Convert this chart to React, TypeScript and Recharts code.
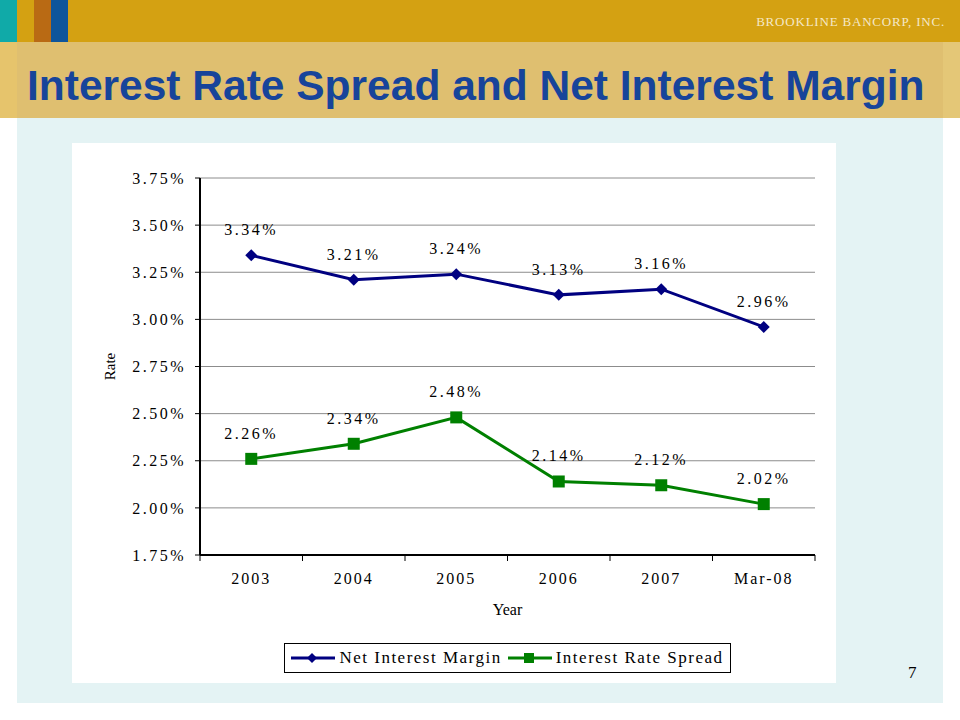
import { ComposedChart, Line, XAxis, YAxis, CartesianGrid, Legend, LabelList } from 'recharts';

const years = ['2003', '2004', '2005', '2006', '2007', 'Mar-08'];
const netInterestMargin = [3.34, 3.21, 3.24, 3.13, 3.16, 2.96];
const interestRateSpread = [2.26, 2.34, 2.48, 2.14, 2.12, 2.02];
const rateTicks = [1.75, 2.0, 2.25, 2.5, 2.75, 3.0, 3.25, 3.5, 3.75];

const data = years.map((year, i) => ({
  year,
  nim: netInterestMargin[i],
  irs: interestRateSpread[i],
}));

const SERIF = '"Liberation Serif", "Times New Roman", serif';
const NAVY = '#000080';
const GREEN = '#008000';

const CHART_W = 764;
const CHART_H = 540;
const MARGIN = { top: 35, right: 21, left: 0, bottom: 10 };
const Y_WIDTH = 128;
const PLOT_W = CHART_W - Y_WIDTH - MARGIN.right;
const BAND = PLOT_W / years.length;
const X_TICK_SIZE = 6;
const X_TICK_MARGIN = 12;

const pct = (v: number) => v.toFixed(2) + '%';

function Diamond({ cx, cy, fill, s = 6 }: any) {
  return <polygon points={`${cx},${cy - s} ${cx + s},${cy} ${cx},${cy + s} ${cx - s},${cy}`} fill={fill} />;
}

function Square({ cx, cy, fill, s = 6 }: any) {
  return <rect x={cx - s} y={cy - s} width={s * 2} height={s * 2} fill={fill} />;
}

// year labels in the middle, tick marks on category boundaries (Excel style)
function YearTick(props: any) {
  const { x, y, payload, index } = props;
  const axisY = y - X_TICK_SIZE - X_TICK_MARGIN;
  const left = x - BAND / 2;
  return (
    <g>
      <line x1={left} x2={left} y1={axisY} y2={axisY + 6} stroke="#000" />
      {index === years.length - 1 && (
        <line x1={x + BAND / 2} x2={x + BAND / 2} y1={axisY} y2={axisY + 6} stroke="#000" />
      )}
      <text x={x} y={y} dy="0.71em" textAnchor="middle" fill="#000" style={{ fontSize: 16, fontFamily: SERIF, letterSpacing: 2 }}>
        {payload.value}
      </text>
    </g>
  );
}

function RateLabel({ viewBox }: any) {
  const cx = viewBox.x + 38;
  const cy = viewBox.y + viewBox.height / 2;
  return (
    <text x={cx} y={cy} transform={`rotate(-90 ${cx} ${cy})`} textAnchor="middle" dominantBaseline="central" fill="#000" style={{ fontSize: 15, fontFamily: SERIF }}>
      Rate
    </text>
  );
}

function YearLabel({ viewBox }: any) {
  const cx = viewBox.x + viewBox.width / 2;
  const cy = viewBox.y + 54;
  return (
    <text x={cx} y={cy} textAnchor="middle" dominantBaseline="central" fill="#000" style={{ fontSize: 16, fontFamily: SERIF }}>
      Year
    </text>
  );
}

const legendOrder = ['nim', 'irs'];

function LegendBox({ payload }: any) {
  const items = [...(payload || [])].sort(
    (a: any, b: any) => legendOrder.indexOf(a.dataKey) - legendOrder.indexOf(b.dataKey)
  );
  return (
    <div style={{ display: 'flex', justifyContent: 'center' }}>
      <div
        style={{
          display: 'flex',
          alignItems: 'center',
          height: 28,
          padding: '0 6px',
          border: '1px solid #000',
          background: '#fff',
          fontFamily: SERIF,
          fontSize: 17,
          letterSpacing: 1.5,
          color: '#000',
          whiteSpace: 'nowrap',
        }}
      >
        {items.map((item: any, i: number) => (
          <span key={item.value} style={{ display: 'flex', alignItems: 'center', marginRight: i === 0 ? 6 : 0 }}>
            <svg width={44} height={14} style={{ marginRight: 4 }}>
              <line x1={0} x2={44} y1={7} y2={7} stroke={item.color} strokeWidth={3} />
              {item.dataKey === 'nim' ? (
                <Diamond cx={21} cy={7} s={5} fill={item.color} />
              ) : (
                <Square cx={21} cy={7} s={5} fill={item.color} />
              )}
            </svg>
            {item.value}
          </span>
        ))}
      </div>
    </div>
  );
}

const labelStyle = { fontSize: 16, fontFamily: SERIF, fill: '#000', letterSpacing: 2.5 };

export default function App() {
  return (
    <div style={{ position: 'absolute', left: 0, top: 0, width: 960, height: 720, background: '#fff', overflow: 'hidden', fontFamily: SERIF }}>
      {/* header bands */}
      <div style={{ position: 'absolute', left: 0, top: 0, width: 960, height: 42, background: '#d4a112' }} />
      <div style={{ position: 'absolute', left: 0, top: 0, width: 17, height: 42, background: '#10aaa8' }} />
      <div style={{ position: 'absolute', left: 34, top: 0, width: 17, height: 42, background: '#b96a14' }} />
      <div style={{ position: 'absolute', left: 51, top: 0, width: 17, height: 42, background: '#0e559b' }} />
      <div style={{ position: 'absolute', left: 0, top: 42, width: 960, height: 76, background: '#dfbf70' }} />
      <div style={{ position: 'absolute', left: 0, top: 42, width: 17, height: 76, background: '#e6c46c' }} />
      <div style={{ position: 'absolute', left: 943, top: 42, width: 17, height: 76, background: '#e4c777' }} />
      <div
        style={{
          position: 'absolute',
          right: 15,
          top: 14,
          fontFamily: SERIF,
          fontSize: 13,
          letterSpacing: 0.8,
          color: '#f5e8c6',
        }}
      >
        BROOKLINE BANCORP, INC.
      </div>
      <div
        style={{
          position: 'absolute',
          left: 27,
          top: 62,
          fontFamily: '"Liberation Sans", Arial, sans-serif',
          fontWeight: 'bold',
          fontSize: 42.5,
          lineHeight: '48px',
          color: '#17449a',
          whiteSpace: 'nowrap',
        }}
      >
        Interest Rate Spread and Net Interest Margin
      </div>
      {/* light blue panel */}
      <div style={{ position: 'absolute', left: 17, top: 118, width: 926, height: 585, background: '#e4f3f4' }} />
      <div style={{ position: 'absolute', left: 908, top: 663, fontFamily: SERIF, fontSize: 17, color: '#000' }}>7</div>

      <div style={{ position: 'absolute', left: 72, top: 143, width: CHART_W, height: CHART_H, background: '#fff' }}>
        <ComposedChart width={CHART_W} height={CHART_H} data={data} margin={MARGIN}>
          <CartesianGrid vertical={false} stroke="#8c8c8c" />
          <XAxis
            dataKey="year"
            scale="band"
            height={88}
            tickSize={X_TICK_SIZE}
            tickMargin={X_TICK_MARGIN}
            tickLine={false}
            axisLine={{ stroke: '#000', strokeWidth: 2 }}
            tick={<YearTick />}
            interval={0}
            label={<YearLabel />}
          />
          <XAxis xAxisId="top" dataKey="year" scale="band" orientation="top" height={0} tick={false} tickLine={false} axisLine={{ stroke: '#000', strokeWidth: 2 }} />
          <YAxis
            width={Y_WIDTH}
            domain={[1.75, 3.75]}
            ticks={rateTicks}
            tickFormatter={pct}
            tickSize={5}
            tickMargin={9}
            tickLine={{ stroke: '#000' }}
            axisLine={{ stroke: '#000', strokeWidth: 2 }}
            tick={{ fill: '#000', fontSize: 16, style: { fontFamily: SERIF, letterSpacing: 2.5 } }}
            label={<RateLabel />}
          />
          <YAxis yAxisId="right" orientation="right" width={0} domain={[1.75, 3.75]} tick={false} tickLine={false} axisLine={{ stroke: '#000', strokeWidth: 2 }} />
          <Legend content={<LegendBox />} verticalAlign="bottom" wrapperStyle={{ left: Y_WIDTH, width: PLOT_W }} />
          <Line
            dataKey="nim"
            name="Net Interest Margin"
            stroke={NAVY}
            strokeWidth={3}
            isAnimationActive={false}
            dot={(p: any) => <Diamond key={`d${p.index}`} cx={p.cx} cy={p.cy} fill={NAVY} />}
            activeDot={false}
          >
            <LabelList dataKey="nim" position="top" offset={20} formatter={pct} style={labelStyle} />
          </Line>
          <Line
            dataKey="irs"
            name="Interest Rate Spread"
            stroke={GREEN}
            strokeWidth={3}
            isAnimationActive={false}
            dot={(p: any) => <Square key={`s${p.index}`} cx={p.cx} cy={p.cy} fill={GREEN} />}
            activeDot={false}
          >
            <LabelList dataKey="irs" position="top" offset={20} formatter={pct} style={labelStyle} />
          </Line>
        </ComposedChart>
      </div>
    </div>
  );
}
